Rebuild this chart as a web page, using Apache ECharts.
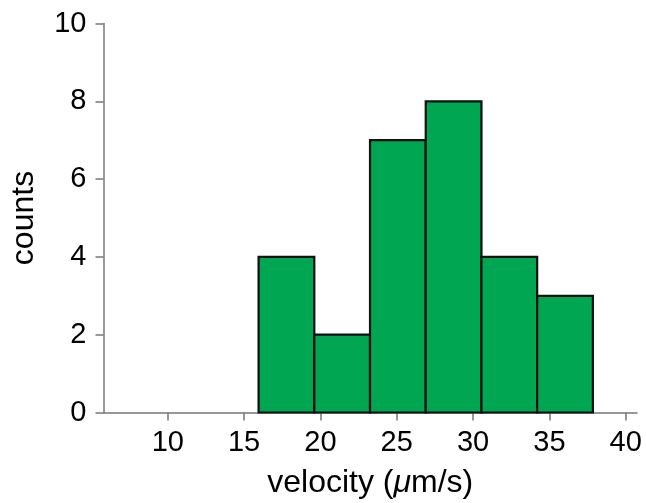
<!DOCTYPE html>
<html>
<head>
<meta charset="utf-8">
<script src="https://cdn.jsdelivr.net/npm/echarts@6/dist/echarts.min.js"></script>
<style>
  html, body { margin: 0; padding: 0; background: #fff; }
  #main { width: 646px; height: 503px; }
</style>
</head>
<body>
<div id="main"></div>
<script>
// histogram bins (edges in um/s) and counts
var binEdges = [15.95, 19.6, 23.25, 26.9, 30.55, 34.2, 37.85];
var counts = [4, 2, 7, 8, 4, 3];
var xTicks = [10, 15, 20, 25, 30, 35, 40];
var yTicks = [0, 2, 4, 6, 8, 10];

var bins = [];
for (var i = 0; i < counts.length; i++) {
  bins.push([binEdges[i], binEdges[i + 1], counts[i]]);
}

var font = 'Liberation Sans, Arial, Helvetica, sans-serif';
var axisColor = '#777';

var myChart = echarts.init(document.getElementById('main'));
var option = {
  backgroundColor: '#fff',
  animation: false,
  grid: { left: 103.5, right: 9, top: 23.5, bottom: 90.5, containLabel: false, outerBoundsMode: 'none' },
  xAxis: {
    type: 'value',
    min: 5.79,
    max: 40.74,
    name: '{n|velocity (}{i|μ}{n|m/s)}',
    nameLocation: 'middle',
    nameGap: 55,
    nameTextStyle: {
      rich: {
        n: { fontFamily: font, fontSize: 32, color: '#000' },
        i: { fontFamily: font, fontSize: 32, color: '#000', fontStyle: 'italic' }
      }
    },
    splitLine: { show: false },
    axisLine: { lineStyle: { color: axisColor, width: 1.5 } },
    axisTick: { customValues: xTicks, length: 8, lineStyle: { color: axisColor, width: 1.5 } },
    axisLabel: { customValues: xTicks, margin: 16, fontFamily: font, fontSize: 29, color: '#000' }
  },
  yAxis: {
    type: 'value',
    min: 0,
    max: 10,
    interval: 2,
    name: 'counts',
    nameLocation: 'middle',
    nameGap: 63,
    nameTextStyle: { fontFamily: font, fontSize: 32, color: '#000' },
    splitLine: { show: false },
    axisLine: { show: true, lineStyle: { color: axisColor, width: 1.5 } },
    axisTick: { show: true, length: 8, lineStyle: { color: axisColor, width: 1.5 } },
    axisLabel: { margin: 17, fontFamily: font, fontSize: 29, color: '#000',
      customValues: yTicks }
  },
  series: [{
    type: 'custom',
    data: bins,
    encode: { x: [0, 1], y: 2 },
    renderItem: function (params, api) {
      var p0 = api.coord([api.value(0), 0]);
      var p1 = api.coord([api.value(1), api.value(2)]);
      return {
        type: 'rect',
        shape: { x: p0[0], y: p1[1], width: p1[0] - p0[0], height: p0[1] - p1[1] },
        style: { fill: '#00a651', stroke: '#111', lineWidth: 2.2 }
      };
    }
  }]
};
myChart.setOption(option);
</script>
</body>
</html>
